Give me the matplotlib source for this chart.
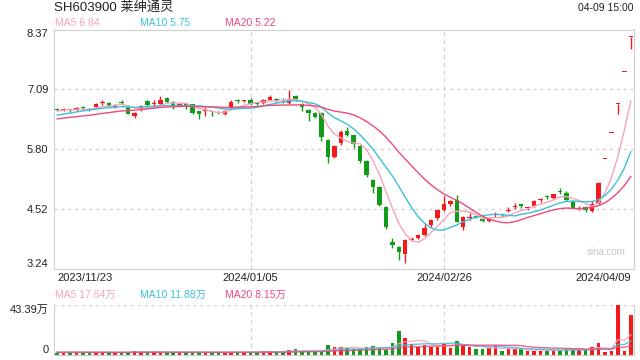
import numpy as np
import pandas as pd
import matplotlib
matplotlib.use("Agg")
import matplotlib.pyplot as plt

plt.rcParams['font.family'] = ['Liberation Sans', 'Noto Sans CJK SC', 'DejaVu Sans']

# ---- data ----
tick_idx = [0, 30, 60, 89]
tick_labels = ['2023/11/23', '2024/01/05', '2024/02/26', '2024/04/09']
price_ticks = [3.24, 4.52, 5.80, 7.09, 8.37]
ma_labels = ['MA5 6.84', 'MA10 5.75', 'MA20 5.22']
vma_labels = ['MA5 17.64万', 'MA10 11.88万', 'MA20 8.15万']

opens = [6.66, 6.64, 6.65, 6.65, 6.69, 6.66, 6.70, 6.79, 6.80, 6.71,
         6.80, 6.72, 6.52, 6.64, 6.84, 6.77, 6.78, 6.91, 6.82, 6.76,
         6.78, 6.77, 6.62, 6.62, 6.61, 6.60, 6.55, 6.68, 6.85, 6.84,
         6.87, 6.78, 6.80, 6.87, 6.86, 6.86, 6.79, 6.95, 6.77, 6.65,
         6.58, 6.58, 6.01, 5.64, 5.93, 6.20, 6.10, 5.87, 5.55, 5.14,
         5.00, 4.57, 3.82, 3.72, 3.56, 3.87, 3.90, 3.97, 4.18, 4.33,
         4.50, 4.64, 4.72, 4.14, 4.34, 4.37, 4.32, 4.27, 4.39, 4.40,
         4.49, 4.57, 4.61, 4.55, 4.59, 4.71, 4.79, 4.76, 4.90, 4.86,
         4.70, 4.53, 4.57, 4.48, 4.66, 5.60, 6.16, 6.78, 7.45, 8.20]
closes = [6.65, 6.66, 6.64, 6.68, 6.68, 6.65, 6.78, 6.80, 6.74, 6.75,
          6.79, 6.57, 6.58, 6.74, 6.75, 6.78, 6.87, 6.81, 6.75, 6.77,
          6.73, 6.58, 6.55, 6.63, 6.60, 6.59, 6.63, 6.81, 6.84, 6.85,
          6.77, 6.77, 6.87, 6.92, 6.85, 6.84, 6.88, 6.87, 6.71, 6.58,
          6.50, 6.07, 5.64, 5.87, 6.17, 6.11, 5.91, 5.55, 5.25, 4.99,
          4.61, 4.14, 3.75, 3.61, 3.86, 3.88, 3.97, 4.12, 4.29, 4.50,
          4.63, 4.70, 4.25, 4.35, 4.35, 4.36, 4.27, 4.32, 4.40, 4.39,
          4.50, 4.58, 4.60, 4.56, 4.69, 4.72, 4.78, 4.84, 4.89, 4.72,
          4.54, 4.54, 4.50, 4.63, 5.09, 5.60, 6.16, 6.78, 7.45, 8.20]
highs = [6.68, 6.68, 6.67, 6.72, 6.73, 6.68, 6.79, 6.86, 6.82, 6.77,
         6.85, 6.76, 6.60, 6.76, 6.86, 6.86, 6.95, 6.92, 6.84, 6.80,
         6.80, 6.78, 6.63, 6.70, 6.64, 6.62, 6.64, 6.86, 6.88, 6.87,
         6.91, 6.80, 6.89, 6.96, 6.90, 6.90, 7.07, 6.97, 6.79, 6.67,
         6.60, 6.60, 6.03, 5.90, 6.21, 6.28, 6.12, 5.90, 5.58, 5.16,
         5.02, 4.58, 3.90, 3.74, 3.88, 3.92, 3.99, 4.20, 4.31, 4.51,
         4.80, 4.72, 4.82, 4.38, 4.45, 4.40, 4.35, 4.34, 4.46, 4.43,
         4.56, 4.65, 4.64, 4.60, 4.71, 4.76, 4.82, 4.85, 4.97, 4.92,
         4.71, 4.58, 4.60, 4.70, 5.10, 5.60, 6.16, 6.78, 7.45, 8.20]
lows = [6.63, 6.62, 6.60, 6.62, 6.64, 6.62, 6.69, 6.75, 6.72, 6.69,
        6.76, 6.55, 6.48, 6.62, 6.73, 6.72, 6.76, 6.79, 6.66, 6.73,
        6.66, 6.56, 6.46, 6.52, 6.52, 6.56, 6.53, 6.67, 6.80, 6.82,
        6.75, 6.75, 6.78, 6.85, 6.81, 6.80, 6.78, 6.84, 6.62, 6.42,
        6.47, 5.99, 5.52, 5.62, 5.90, 6.09, 5.84, 5.50, 5.20, 4.86,
        4.58, 4.10, 3.70, 3.43, 3.36, 3.84, 3.88, 3.95, 4.15, 4.30,
        4.48, 4.60, 4.24, 4.08, 4.30, 4.33, 4.25, 4.25, 4.36, 4.36,
        4.46, 4.53, 4.54, 4.50, 4.57, 4.68, 4.75, 4.75, 4.85, 4.70,
        4.52, 4.50, 4.47, 4.47, 4.64, 5.60, 6.16, 6.55, 7.45, 7.95]
# volume, unit 万
volumes = [2.0, 2.2, 2.5, 2.2, 2.3, 2.0, 2.4, 2.6, 2.2, 2.0,
           2.1, 2.5, 3.6, 2.4, 2.6, 2.2, 2.5, 2.3, 2.4, 2.0,
           2.2, 2.5, 2.6, 2.1, 2.0, 2.2, 2.4, 2.8, 2.3, 2.2,
           2.5, 2.1, 3.5, 3.4, 2.4, 2.6, 4.5, 4.8, 3.4, 3.5,
           3.2, 3.5, 8.7, 6.9, 6.9, 5.8, 4.9, 4.9, 7.2, 7.8,
           6.1, 4.3, 10.7, 21.0, 15.0, 9.3, 7.2, 8.7, 7.2, 7.2,
           9.8, 6.4, 12.2, 8.4, 6.6, 4.9, 5.5, 5.8, 8.4, 3.8,
           4.9, 4.9, 4.9, 3.8, 3.8, 3.8, 3.8, 4.3, 4.3, 4.9,
           4.9, 4.9, 4.9, 7.2, 10.7, 2.6, 3.5, 43.39, 3.5, 34.7]
# closes / volumes before the window, only used for the moving averages
pre_closes = [6.30, 6.35, 6.40, 6.33, 6.38, 6.42, 6.36, 6.40, 6.38, 6.45,
              6.40, 6.45, 6.42, 6.48, 6.45, 6.58, 6.62, 6.64, 6.65]
pre_volumes = [2.6, 2.4, 2.5, 2.7, 2.3, 2.5, 2.6, 2.4, 2.5, 2.6,
               2.4, 2.5, 2.3, 2.6, 2.4, 2.5, 2.2, 2.4, 2.3]

red = '#f51a1a'
green = '#109c18'
c_ma5 = '#f7a3be'
c_ma10 = '#3cc0da'
c_ma20 = '#ee4a7c'
grid_c = '#d0d0d0'

o = np.array(opens); c = np.array(closes)
h = np.array(highs); l = np.array(lows)
v = np.array(volumes)
x = np.arange(len(c))
cols = np.where(c >= o, red, green)

npre = len(pre_closes)
cs = pd.Series(pre_closes + closes)
vs = pd.Series(pre_volumes + volumes)
ma = {n: cs.rolling(n).mean().values[npre:] for n in (5, 10, 20)}
vma = {n: vs.rolling(n).mean().values[npre:] for n in (5, 10, 20)}

fig = plt.figure(figsize=(6.4, 3.6), dpi=100)
W, H = 640.0, 360.0
ax = fig.add_axes([54 / W, 1 - 269 / H, 580 / W, 239.5 / H])
axv = fig.add_axes([54 / W, 1 - 355 / H, 580 / W, 50 / H])

### main panel: candles
ax.vlines(x, l, h, colors=cols, lw=1, zorder=2)
body = np.maximum(np.abs(c - o), 0.022)
ax.bar(x, body, bottom=np.minimum(o, c), width=0.7, color=cols, linewidth=0, zorder=2)
ax.plot(x, ma[5], color=c_ma5, lw=1, zorder=3)
ax.plot(x, ma[10], color=c_ma10, lw=1, zorder=3)
ax.plot(x, ma[20], color=c_ma20, lw=1, zorder=3)

ax.set_xlim(-0.5, len(c) - 0.5)
ax.set_ylim(price_ticks[0], price_ticks[-1])
for p in price_ticks[1:-1]:
    ax.axhline(p, color=grid_c, lw=1, ls=(0, (2, 3)), zorder=0)
for i in tick_idx[1:3]:
    ax.axvline(i, color=grid_c, lw=0.8, ls=(0, (4, 3)), zorder=0)
    axv.axvline(i, color=grid_c, lw=0.8, ls=(0, (4, 3)), zorder=0)

ax.set_yticks(price_ticks)
ax.set_yticklabels(['%.2f' % p for p in price_ticks], fontsize=8, color='#222222')
ylabs = ax.get_yticklabels()
ylabs[0].set_va('bottom')
ylabs[-1].set_va('top')
ax.set_xticks(tick_idx)
ax.set_xticklabels(tick_labels, fontsize=8, color='#222222')
xlabs = ax.get_xticklabels()
xlabs[0].set_ha('left')
xlabs[-1].set_ha('right')
ax.tick_params(length=0, pad=4)
ax.tick_params(axis='x', pad=3)
for s in ax.spines.values():
    s.set_color(grid_c)
# move first/last x labels to the panel edges
xlabs[0].set_x(-0.5)
xlabs[-1].set_x(len(c) - 0.5)

ax.text(0.985, 0.07, 'sina.com', transform=ax.transAxes, ha='right', va='center',
        fontsize=7, color='#c8c8c8')

### volume panel
axv.bar(x, v, width=0.55, color=cols, linewidth=0, zorder=2)
axv.plot(x, vma[5], color=c_ma5, lw=1, alpha=0.85, zorder=3)
axv.plot(x, vma[10], color=c_ma10, lw=1, alpha=0.85, zorder=3)
axv.plot(x, vma[20], color=c_ma20, lw=1, alpha=0.85, zorder=3)
axv.set_xlim(-0.5, len(c) - 0.5)
vmax = max(volumes)
axv.set_ylim(0, vmax)
axv.axhline(vmax, color=grid_c, lw=1, ls=(0, (2, 3)), zorder=0)
axv.set_yticks([0, vmax])
axv.set_yticklabels(['0', '%.2f万' % vmax], fontsize=8, color='#222222')
vl = axv.get_yticklabels()
vl[0].set_va('bottom')
vl[1].set_va('top')
axv.set_xticks([])
axv.tick_params(length=0, pad=4)
for s in axv.spines.values():
    s.set_color(grid_c)
axv.spines['top'].set_visible(False)

### header texts
def ftext(px, py, s, col, size=7.5, ha='left'):
    fig.text(px / W, 1 - py / H, s, color=col, fontsize=size, ha=ha, va='center')

ftext(54, 8, 'SH603900 莱绅通灵', '#222222', size=9.5)
ftext(634, 8, '04-09 15:00', '#222222', size=7.5, ha='right')
for px, s, col in zip([55, 140, 225], ma_labels, [c_ma5, c_ma10, c_ma20]):
    ftext(px, 23, s, col)
for px, s, col in zip([55, 140, 225], vma_labels, [c_ma5, c_ma10, c_ma20]):
    ftext(px, 295, s, col)

fig.savefig('out.png', dpi=100)
